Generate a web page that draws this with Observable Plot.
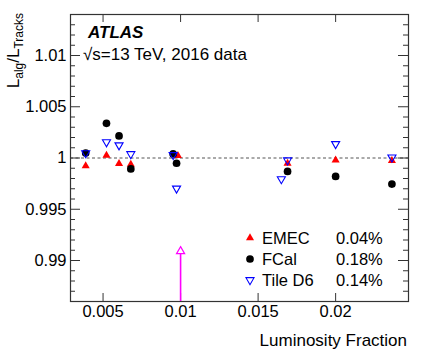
<!DOCTYPE html>
<html><head><meta charset="utf-8">
<script src="https://cdn.jsdelivr.net/npm/d3@7"></script>
<script src="https://cdn.jsdelivr.net/npm/@observablehq/plot@0.6"></script>
<style>
body{margin:0;background:#fff}
svg{font-family:"Liberation Sans",Arial,Helvetica,sans-serif}
</style>
</head><body><div id="chart"></div>
<script>
// ---- data ----
const emecX = [0.00388, 0.00522, 0.00603, 0.00679, 0.00983, 0.0169, 0.0200, 0.02363];
const emecY = [0.99922, 1.00025, 0.99944, 0.99938, 1.00022, 0.99948, 0.99980, 0.99974];
const fcalX = [0.00388, 0.00522, 0.00603, 0.00679, 0.00952, 0.00974, 0.0169, 0.0200, 0.02363];
const fcalY = [1.00049, 1.00338, 1.00215, 0.99893, 1.00040, 0.99949, 0.99869, 0.99820, 0.99746];
const tileX = [0.00388, 0.00522, 0.00603, 0.00679, 0.00952, 0.00974, 0.0165, 0.0169, 0.0200, 0.02363];
const tileY = [1.00048, 1.00155, 1.00125, 1.00039, 1.00030, 0.99703, 0.99795, 0.99978, 1.00137, 1.00006];
const arrowX = [0.01];
const arrowY = [0.9909];
const seriesNames = ["EMEC", "FCal", "Tile D6"];
const seriesPct = ["0.04%", "0.18%", "0.14%"];
const xTicks = [0.005, 0.01, 0.015, 0.02];
const xTickLabels = ["0.005", "0.01", "0.015", "0.02"];
const yTicks = [0.99, 0.995, 1, 1.005, 1.01];
const yTickLabels = ["0.99", "0.995", "1", "1.005", "1.01"];
const yMinor = [0.987,0.988,0.989,0.991,0.992,0.993,0.994,0.996,0.997,0.998,0.999,1.001,1.002,1.003,1.004,1.006,1.007,1.008,1.009,1.011,1.012,1.013];
const xDomain = [0.0029, 0.0247];
const yDomain = [0.986, 1.014];

const W = 425, H = 362, mL = 70, mR = 17, mT = 14, mB = 61;
const plotW = W - mL - mR, plotH = H - mT - mB;
const xLab = new Map(xTicks.map((t, i) => [t, xTickLabels[i]]));
const yLab = new Map(yTicks.map((t, i) => [t, yTickLabels[i]]));
const emec = emecX.map((x, i) => ({x, y: emecY[i]}));
const fcal = fcalX.map((x, i) => ({x, y: fcalY[i]}));
const tile = tileX.map((x, i) => ({x, y: tileY[i]}));
const arrow = arrowX.map((x, i) => ({x, y: arrowY[i]}));

const axisColor = "#333";
const svg = Plot.plot({
  width: W, height: H,
  marginLeft: mL, marginRight: mR, marginTop: mT, marginBottom: mB,
  style: {fontFamily: '"Liberation Sans",Arial,Helvetica,sans-serif', fontSize: "16.5px", color: "#000", background: "#fff"},
  x: {domain: xDomain},
  y: {domain: yDomain},
  marks: [
    Plot.ruleY([1], {stroke: "#555", strokeDasharray: "3,2.5", strokeWidth: 1}),
    Plot.frame({stroke: axisColor, strokeWidth: 1.2}),
    Plot.axisX({anchor: "bottom", ticks: xTicks, tickSize: 0, tickPadding: 4, tickFormat: d => xLab.get(d), label: null}),
    Plot.axisY({anchor: "left", ticks: yTicks, tickSize: 0, tickPadding: 4, tickFormat: d => yLab.get(d), label: null}),
    // inward ticks (ROOT style)
    Plot.tickX(xTicks, {x: d => d, insetTop: plotH - 8, stroke: axisColor}),
    Plot.tickX(xTicks, {x: d => d, insetBottom: plotH - 8, stroke: axisColor}),
    Plot.tickY(yTicks, {y: d => d, insetRight: plotW - 10, stroke: axisColor}),
    Plot.tickY(yMinor, {y: d => d, insetRight: plotW - 5, stroke: axisColor}),
    Plot.tickY(yTicks, {y: d => d, insetLeft: plotW - 10, stroke: axisColor}),
    Plot.tickY(yMinor, {y: d => d, insetLeft: plotW - 5, stroke: axisColor}),
    Plot.ruleX(arrow, {x: "x", y1: () => yDomain[0], y2: "y", stroke: "#ff00ff", strokeWidth: 1.6}),
    Plot.dot(arrow, {x: "x", y: "y", symbol: "triangle", r: 3, fill: "white", stroke: "#ff00ff", strokeWidth: 1.2}),
    Plot.dot(emec, {x: "x", y: "y", symbol: "triangle", r: 3, fill: "#ff0000", stroke: "none"}),
    Plot.dot(fcal, {x: "x", y: "y", symbol: "circle", r: 3.85, fill: "#000", stroke: "none"}),
    Plot.dot(tile, {x: "x", y: "y", symbol: "triangle", r: 3, rotate: 180, fill: "none", stroke: "#0000ff", strokeWidth: 1.1})
  ]
});

const s = d3.select(svg);
const font = '"Liberation Sans",Arial,Helvetica,sans-serif';
// ATLAS label
s.append("text").attr("x", 88).attr("y", 37.5).attr("text-anchor", "start").attr("font-size", 17).attr("font-weight", "bold")
  .attr("font-style", "italic").attr("font-family", font).attr("fill", "#000").text("ATLAS");
s.append("text").attr("x", 83).attr("y", 60).attr("text-anchor", "start").attr("font-size", 17).attr("font-family", font)
  .attr("fill", "#000").text("\u221As=13 TeV, 2016 data");
// x axis title
s.append("text").attr("x", 407).attr("y", 346).attr("text-anchor", "end").attr("font-size", 17)
  .attr("font-family", font).attr("fill", "#000").text("Luminosity Fraction");
// y axis title
const yt = s.append("text").attr("transform", "translate(19,13) rotate(-90)").attr("text-anchor", "end")
  .attr("font-size", 17).attr("font-family", font).attr("fill", "#000");
yt.append("tspan").text("L");
yt.append("tspan").attr("font-size", 12).attr("dy", 4).text("alg");
yt.append("tspan").attr("dy", -4).text("/L");
yt.append("tspan").attr("font-size", 12).attr("dy", 4).text("Tracks");
// legend
const legY = [238, 259, 280];
const triPath = d3.symbol(d3.symbolTriangle, Math.PI * 9)();
const lg = s.append("g").attr("font-family", font).attr("font-size", 16.5).attr("fill", "#000").attr("text-anchor", "start");
lg.append("path").attr("d", triPath).attr("transform", `translate(250,${legY[0]})`).attr("fill", "#ff0000");
lg.append("circle").attr("cx", 250).attr("cy", legY[1]).attr("r", 3.85).attr("fill", "#000");
lg.append("path").attr("d", triPath).attr("transform", `translate(250,${legY[2]}) rotate(180)`)
  .attr("fill", "none").attr("stroke", "#0000ff").attr("stroke-width", 1.1);
seriesNames.forEach((n, i) => {
  lg.append("text").attr("x", 262).attr("y", legY[i] + 6).text(n);
  lg.append("text").attr("x", 336).attr("y", legY[i] + 6).text(seriesPct[i]);
});
document.getElementById("chart").appendChild(svg);
</script>
</body></html>
